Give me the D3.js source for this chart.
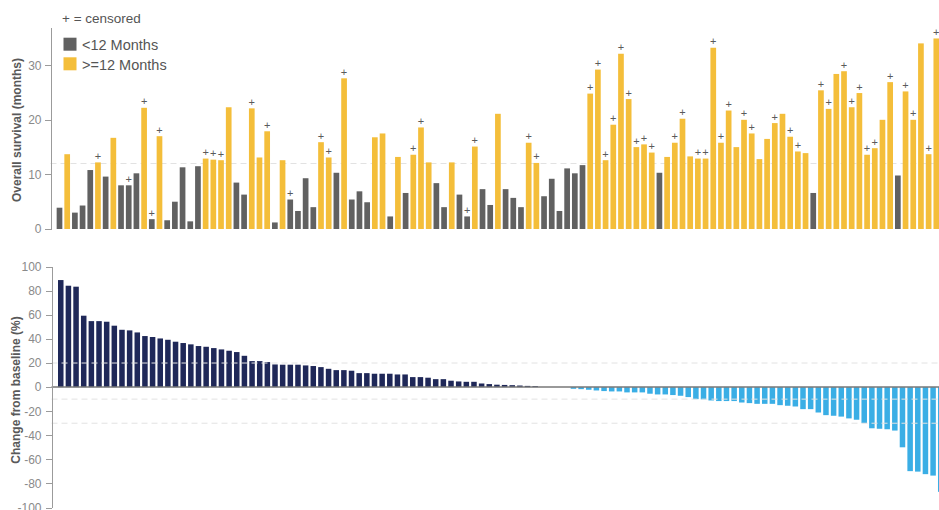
<!DOCTYPE html>
<html>
<head>
<meta charset="utf-8">
<script src="https://cdn.jsdelivr.net/npm/d3@7/dist/d3.min.js"></script>
<style>
    body { margin: 0; background: #fff; font-family: "Liberation Sans", Arial, sans-serif; }
    svg { display: block; }
    .axis path, .axis line { stroke: #9b9b9b; shape-rendering: crispEdges; }
    .axis text { fill: #8a8a8a; font-size: 12px; font-family: "Liberation Sans", Arial, sans-serif; }
    .axisLabel { fill: #595959; font-size: 12px; font-weight: bold; }
    .refLine { stroke: #e2e2e2; stroke-dasharray: 6,4; }
    .zeroLine { stroke: #777; stroke-width: 1.5; }
    .censorMark { fill: #5a5a5a; font-size: 11px; text-anchor: middle; }
    .legendText { fill: #555; font-size: 14.5px; }
    .legendNote { fill: #555; font-size: 13.5px; }
</style>
</head>
<body>
<div id="chart"></div>
<script>

// patients, same order in both panels
var patients = d3.range(1, 117).map(function(i){ return "P" + i; });

// overall survival (months), read left to right
var survivalMonths = [
    3.9, 13.7, 3.0, 4.3, 10.8, 12.2, 9.6, 16.7, 8.0, 8.0,
    10.2, 22.2, 1.8, 17.0, 1.6, 5.0, 11.3, 1.4, 11.5, 12.9,
    12.7, 12.6, 22.3, 8.5, 6.3, 22.1, 13.1, 17.9, 1.2, 12.6,
    5.4, 3.3, 9.3, 4.0, 15.9, 13.1, 10.3, 27.6, 5.4, 6.9,
    4.9, 16.8, 17.5, 2.3, 13.2, 6.6, 13.6, 18.6, 12.2, 8.4,
    4.0, 12.2, 6.3, 2.3, 15.1, 7.3, 4.4, 21.1, 7.3, 5.7,
    4.0, 15.8, 12.1, 6.0, 9.2, 3.3, 11.1, 10.2, 11.7, 24.8,
    29.2, 12.6, 19.1, 32.1, 23.8, 15.0, 15.5, 14.0, 10.3, 13.2,
    15.8, 20.2, 13.3, 12.9, 12.9, 33.2, 15.8, 21.7, 15.0, 20.0,
    17.5, 12.8, 16.5, 19.4, 21.1, 16.9, 14.2, 13.9, 6.6, 25.4,
    22.0, 28.4, 28.9, 22.3, 24.9, 13.6, 14.8, 20.0, 26.9, 9.8,
    25.2, 20.0, 34.0, 13.7, 34.9
];

// 1 = censored
var censored = [
    0,0,0,0,0,1,0,0,0,1,
    0,1,1,1,0,0,0,0,0,1,
    1,1,0,0,0,1,0,1,0,0,
    1,0,0,0,1,1,0,1,0,0,
    0,0,0,0,0,0,1,1,0,0,
    0,0,0,1,1,0,0,0,0,0,
    0,1,1,0,0,0,0,0,0,1,
    1,1,1,1,1,1,1,1,0,0,
    1,1,0,1,1,1,1,1,0,1,
    1,0,0,1,0,1,1,0,0,1,
    1,0,1,1,1,1,1,0,1,0,
    1,1,0,1,1
];

// change from baseline (%), waterfall order
var changePct = [
    88.9, 84.2, 83.4, 59.3, 54.8, 54.8, 54.3, 51.0, 47.6, 47.1,
    45.4, 42.4, 41.6, 40.4, 39.3, 37.7, 36.6, 35.5, 34.1, 33.5,
    32.4, 31.3, 30.2, 29.1, 26.0, 21.6, 21.6, 20.8, 18.8, 18.6,
    18.6, 18.6, 18.0, 17.5, 16.6, 15.2, 14.1, 14.1, 13.6, 11.6,
    11.6, 11.1, 11.1, 11.1, 10.5, 10.5, 8.3, 8.3, 7.8, 6.6,
    6.6, 5.3, 4.7, 4.4, 4.4, 3.0, 2.5, 2.0, 1.8, 1.6,
    1.3, 1.0, 0.8, 0, 0, 0, 0, -1.4, -1.7, -2.2,
    -2.8, -3.3, -3.6, -3.6, -4.4, -4.4, -4.4, -5.5, -6.1, -6.1,
    -6.6, -7.2, -8.3, -10.0, -10.2, -11.1, -11.6, -11.6, -11.6, -12.8,
    -13.3, -13.9, -13.9, -13.9, -15.0, -15.5, -16.1, -18.3, -18.3, -21.1,
    -23.3, -23.8, -24.5, -26.0, -27.1, -29.9, -34.2, -34.6, -35.0, -36.1,
    -50.0, -69.8, -70.2, -72.3, -73.5, -87.0
];

var survivalTicks = [0, 10, 20, 30];
var changeTicks = [100, 80, 60, 40, 20, 0, -20, -40, -60, -80, -100];
var survivalRefLines = [12];
var changeRefLines = [20, -10, -30];
var legendItems = [
    {label: "<12 Months", color: "#616161"},
    {label: ">=12 Months", color: "#F4BE3A"}
];
var censorNote = "+ = censored";

/**
 * Constructor for the combined survival / waterfall chart
 */
function SurvivalWaterfallChart(){
    var self = this;
    self.init();
};

/**
 * Creates the svg element
 */
SurvivalWaterfallChart.prototype.init = function(){
    var self = this;
    self.svgWidth = 939;
    self.svgHeight = 510;

    self.svg = d3.select("#chart").append("svg")
        .attr("width", self.svgWidth)
        .attr("height", self.svgHeight);
};

/**
 * Overall survival bars with censoring marks
 */
SurvivalWaterfallChart.prototype.drawSurvival = function(){
    var self = this;
    var axisX = 50.5;

    var xScale = d3.scaleBand()
        .domain(patients)
        .range([axisX, 953])
        .paddingInner(0.26)
        .paddingOuter(0.8);

    var yScale = d3.scaleLinear()
        .domain([0, 37])
        .range([229, 27]);

    var data = survivalMonths.map(function(v, i){
        return {id: patients[i], value: v, censored: censored[i] == 1};
    });

    var g = self.svg.append("g");

    //reference line at 12 months
    g.selectAll(".refLine").data(survivalRefLines)
        .enter().append("line")
        .attr("class", "refLine")
        .attr("x1", axisX)
        .attr("x2", self.svgWidth)
        .attr("y1", function(d){ return yScale(d); })
        .attr("y2", function(d){ return yScale(d); });

    g.selectAll(".osBar").data(data)
        .enter().append("rect")
        .attr("class", "osBar")
        .attr("x", function(d){ return xScale(d.id); })
        .attr("y", function(d){ return yScale(d.value); })
        .attr("width", xScale.bandwidth())
        .attr("height", function(d){ return yScale(0) - yScale(d.value); })
        .attr("fill", function(d){
            return d.value >= 12 ? legendItems[1].color : legendItems[0].color;
        });

    g.selectAll(".censorMark").data(data.filter(function(d){ return d.censored; }))
        .enter().append("text")
        .attr("class", "censorMark")
        .attr("x", function(d){ return xScale(d.id) + xScale.bandwidth() / 2; })
        .attr("y", function(d){ return yScale(d.value) - 2.5; })
        .text("+");

    g.append("g")
        .attr("class", "axis")
        .attr("transform", "translate(" + axisX + ",0)")
        .call(d3.axisLeft(yScale).tickValues(survivalTicks).tickSize(6).tickSizeOuter(0).tickPadding(3)
            .tickFormat(function(d){ return String(d); }));

    g.append("text")
        .attr("class", "axisLabel")
        .attr("transform", "translate(21,130) rotate(-90)")
        .style("text-anchor", "middle")
        .text("Overall survival (months)");

    //legend
    g.append("text")
        .attr("class", "legendNote")
        .attr("x", 62)
        .attr("y", 22.5)
        .text(censorNote);

    var legend = g.selectAll(".legendItem").data(legendItems)
        .enter().append("g")
        .attr("class", "legendItem")
        .attr("transform", function(d, i){ return "translate(63.5," + (37.7 + i * 19.6) + ")"; });

    legend.append("rect")
        .attr("width", 13)
        .attr("height", 13)
        .attr("fill", function(d){ return d.color; });

    legend.append("text")
        .attr("class", "legendText")
        .attr("x", 18.5)
        .attr("y", 12.3)
        .text(function(d){ return d.label; });
};

/**
 * Waterfall of change from baseline
 */
SurvivalWaterfallChart.prototype.drawWaterfall = function(){
    var self = this;
    var axisX = 51.5;

    var xScale = d3.scaleBand()
        .domain(patients)
        .range([axisX, 950])
        .paddingInner(0.28)
        .paddingOuter(0.85);

    var yScale = d3.scaleLinear()
        .domain([-100, 100])
        .range([507.5, 266.7]);

    var data = changePct.map(function(v, i){
        return {id: patients[i], value: v};
    });

    var g = self.svg.append("g");

    g.selectAll(".wfBar").data(data)
        .enter().append("rect")
        .attr("class", "wfBar")
        .attr("x", function(d){ return xScale(d.id); })
        .attr("y", function(d){ return yScale(Math.max(0, d.value)); })
        .attr("width", xScale.bandwidth())
        .attr("height", function(d){ return Math.abs(yScale(d.value) - yScale(0)); })
        .attr("fill", function(d){ return d.value >= 0 ? "#1F2858" : "#3AAEE5"; });

    g.selectAll(".refLine").data(changeRefLines)
        .enter().append("line")
        .attr("class", "refLine")
        .attr("x1", axisX)
        .attr("x2", self.svgWidth)
        .attr("y1", function(d){ return yScale(d); })
        .attr("y2", function(d){ return yScale(d); });

    g.append("line")
        .attr("class", "zeroLine")
        .attr("x1", axisX)
        .attr("x2", self.svgWidth)
        .attr("y1", yScale(0))
        .attr("y2", yScale(0));

    g.append("g")
        .attr("class", "axis")
        .attr("transform", "translate(" + axisX + ",0)")
        .call(d3.axisLeft(yScale).tickValues(changeTicks).tickSize(6).tickSizeOuter(0).tickPadding(4)
            .tickFormat(function(d){ return String(d); }));

    g.append("text")
        .attr("class", "axisLabel")
        .attr("transform", "translate(20,390) rotate(-90)")
        .style("text-anchor", "middle")
        .text("Change from baseline (%)");
};

var chart = new SurvivalWaterfallChart();
chart.drawSurvival();
chart.drawWaterfall();

</script>
</body>
</html>
